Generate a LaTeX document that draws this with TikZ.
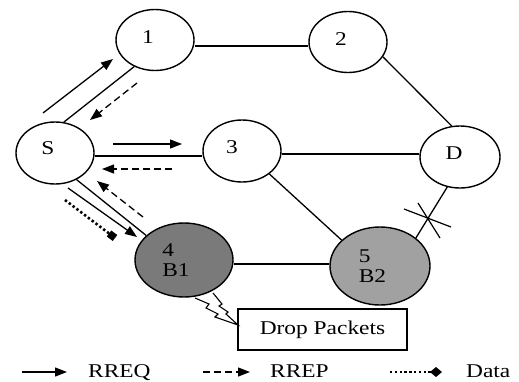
\documentclass[tikz,border=0pt]{standalone}
\usepackage{fontspec}
\setmainfont{Liberation Serif}[FakeStretch=1.2]
\usetikzlibrary{arrows.meta,shapes.geometric}
\begin{document}
\begin{tikzpicture}[x=1pt,y=-1pt,
 every node/.style={font=\fontsize{19.5}{20}\selectfont},
 host/.style={ellipse, draw, line width=1.4pt, inner sep=0pt},
 link/.style={line width=1.3pt},
 rreq/.style={line width=1.3pt, -{Triangle[length=12pt,width=9pt]}},
 rrep/.style={line width=1.3pt, dash pattern=on 7pt off 4pt, -{Triangle[length=12pt,width=9pt]}},
 data/.style={line width=2.6pt, dash pattern=on 2.4pt off 2.4pt}
]
\useasboundingbox (0,0) rectangle (519,381);

% hosts
\node[host, minimum width=78pt, minimum height=62pt, label={[xshift=-7pt,yshift=5pt]center:S}] (S) at (55,153) {};
\node[host, minimum width=78pt, minimum height=61pt, label={[xshift=-7pt,yshift=2.5pt]center:1}] (n1) at (155,40) {};
\node[host, minimum width=78pt, minimum height=61pt, label={[xshift=-7pt,yshift=2.5pt]center:2}] (n2) at (348,42) {};
\node[host, minimum width=78pt, minimum height=62pt, label={[xshift=-10pt,yshift=4pt]center:3}] (n3) at (242,151) {};
\node[host, minimum width=80pt, minimum height=62pt, label={[xshift=-6pt,yshift=3.5pt]center:D}] (D) at (460,157) {};
\node[host, fill=black!52, minimum width=98pt, minimum height=74pt,
  label={[align=left,xshift=-8pt,yshift=0pt]center:4\\B1}] (n4) at (184,260) {};
\node[host, fill=black!37, minimum width=100pt, minimum height=78pt,
  label={[align=left,xshift=-7.5pt,yshift=0pt]center:5\\B2}] (n5) at (380,266) {};

% links
\draw[link] (S.74) -- (n1.232);
\draw[link] ([yshift=-6pt]n1.east) -- ([yshift=-4pt]n2.west);
\draw[link] (n2.337) -- (D.105);
\draw[link] ([yshift=-3pt]S.east) -- ([yshift=-5pt]n3.west);
\draw[link] ([yshift=-3pt]n3.east) -- ([yshift=3pt]D.west);
\draw[link] (S.309) -- (n4.147);
\draw[link] (n3.320) -- (n5.146);
\draw[link] ([yshift=-4pt]n4.east) -- ([yshift=2pt]n5.west);
\draw[link] (D.247) -- (n5.38);

% broken link mark
\draw[line width=1.2pt] (404,209) -- (451,227);
\draw[line width=1.2pt] (418,203) -- (440,238);

% route messages
\coordinate (q1a) at (43,113);  \coordinate (q1b) at (113,59);
\coordinate (p1a) at (137,83);  \coordinate (p1b) at (90,120);
\coordinate (q3a) at (113,144); \coordinate (q3b) at (182,144);
\coordinate (p3a) at (172,169); \coordinate (p3b) at (102,169);
\coordinate (q4a) at (68,188);  \coordinate (q4b) at (137,237);
\coordinate (p4a) at (143,217); \coordinate (p4b) at (97,181);
\coordinate (da) at (65,200);   \coordinate (db) at (115,238);
\draw[rreq] (q1a) -- (q1b);
\draw[rrep] (p1a) -- (p1b);
\draw[rreq] (q3a) -- (q3b);
\draw[rrep] (p3a) -- (p3b);
\draw[rreq] (q4a) -- (q4b);
\draw[rrep] (p4a) -- (p4b);
\draw[data, -{Square[length=7.5pt,width=7.5pt,sep=0pt]}] (da) -- (db);

% drop packets
\node[draw, line width=1.4pt, minimum width=169pt, minimum height=41pt, inner sep=0pt] (drop) at (322.5,329.5) {Drop Packets};
\filldraw[fill=white, line width=1.1pt, line join=miter]
  (195,298) -- (209,304) -- (206,308) -- (218,314) -- (215,317) -- (238,325)
  -- (226,314) -- (228,312) -- (219,306) -- (222,304) -- (213,293);

% legend
\coordinate (l1a) at (22,372);  \coordinate (l1b) at (67,372);
\coordinate (l2a) at (203,372); \coordinate (l2b) at (250,372);
\coordinate (l3a) at (390,372); \coordinate (l3b) at (442,372);
\draw[rreq] (l1a) -- (l1b);
\draw[rrep] (l2a) -- (l2b);
\draw[data, -{Diamond[length=12pt,width=10pt]}] (l3a) -- (l3b);
\node[anchor=base west, inner sep=0pt] (t1) at (88,377) {RREQ};
\node[anchor=base west, inner sep=0pt] (t2) at (270,377) {RREP};
\node[anchor=base west, inner sep=0pt] (t3) at (466,377) {Data};
\end{tikzpicture}
\end{document}
